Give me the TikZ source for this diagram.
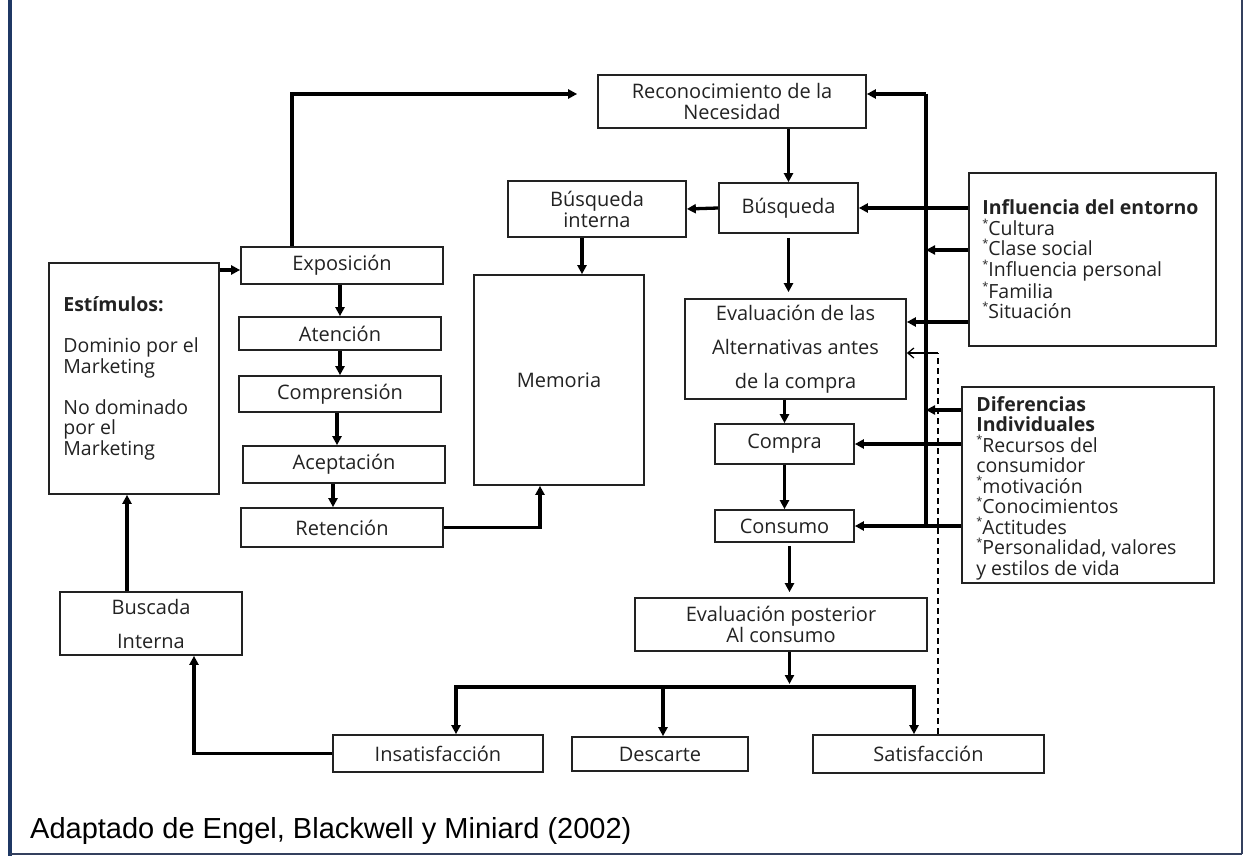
\documentclass[tikz,border=0pt]{standalone}
\usepackage{fontspec}
\setmainfont{Open Sans}
\newfontfamily\capfont{Liberation Sans}
\usetikzlibrary{arrows.meta,calc}
\definecolor{navy}{HTML}{1F3864}
\definecolor{frameb}{HTML}{34405E}
\definecolor{ink}{HTML}{222222}
\newcommand{\bul}{\raisebox{0.42em}{\fontsize{11}{11}\selectfont*}}
\begin{document}
\begin{tikzpicture}[x=1pt,y=-1pt,
  box/.style={draw=ink, line width=1.7pt, inner sep=0pt, align=center,
    font=\fontsize{20}{21}\selectfont, text=ink},
  widebox/.style={box, font=\fontsize{20}{34}\selectfont},
  lbl/.style={inner sep=0pt, align=left, anchor=west,
    font=\fontsize{19.5}{20.5}\selectfont, text=ink},
  conn/.style={line width=3.3pt, black, -{Triangle[length=9pt,width=9pt]}},
  plain/.style={line width=3.3pt, black},
  fbline/.style={black, line width=1.3pt},
]
\useasboundingbox (0,0) rectangle (1243,856);
\fill[white] (0,0) rectangle (1243,856);
% frame
\fill[navy] (8,0) rectangle (12,856);
\draw[frameb, line width=2pt] (10,854) -- (1242,854);
\draw[frameb, line width=2pt] (1242,0) -- (1242,854);

% boxes
\node[box, minimum width=268pt, minimum height=53pt] (reco) at (732,101.5) {Reconocimiento de la\\Necesidad};
\node[box, minimum width=139pt, minimum height=50pt] (busq) at (788.5,208) {Búsqueda};
\node[box, minimum width=178pt, minimum height=56pt] (bint) at (597,209) {Búsqueda\\interna};
\node[box, minimum width=170pt, minimum height=210pt] (mem) at (559,380) {Memoria};
\node[widebox, minimum width=221pt, minimum height=100pt] (evalalt) at (795.5,349) {Evaluación de las\\Alternativas antes\\de la compra};
\node[box, minimum width=139pt, minimum height=40pt] (compra) at (784.5,444) {Compra};
\node[box, minimum width=139pt, minimum height=32pt] (consumo) at (784.5,526) {Consumo};
\node[box, minimum width=292pt, minimum height=53pt] (evpost) at (781,624.5) {Evaluación posterior\\Al consumo};
\node[box, minimum width=210pt, minimum height=37pt] (insat) at (438,753.5) {Insatisfacción};
\node[box, minimum width=176pt, minimum height=34pt] (desc) at (660,754) {Descarte};
\node[box, minimum width=231pt, minimum height=38pt] (satis) at (928.5,754) {Satisfacción};
\node[box, minimum width=247pt, minimum height=173pt] (infl) at (1092.5,259.5) {};
\node[box, minimum width=252pt, minimum height=196pt] (dif) at (1088,485) {};
\node[box, minimum width=170pt, minimum height=231pt] (estim) at (134,378.5) {};
\node[box, minimum width=202pt, minimum height=37pt] (expo) at (342,265.5) {Exposición};
\node[box, minimum width=202pt, minimum height=33pt] (aten) at (340,333.5) {Atención};
\node[box, minimum width=202pt, minimum height=36pt] (comp) at (340,394) {Comprensión};
\node[box, minimum width=202pt, minimum height=37pt] (acep) at (344,464.5) {Aceptación};
\node[box, minimum width=202pt, minimum height=39pt] (ret) at (342,527.5) {Retención};
\node[widebox, minimum width=182pt, minimum height=63pt] (busc) at (151,623.5) {Buscada\\Interna};

% left-aligned texts
\node[lbl] (inflt) at ([xshift=14pt]infl.west) {\textbf{Influencia del entorno}\\\bul Cultura\\\bul Clase social\\\bul Influencia personal\\\bul Familia\\\bul Situación};
\node[lbl] (dift) at ([xshift=15pt,yshift=-3pt]dif.west) {\textbf{Diferencias}\\\textbf{Individuales}\\\bul Recursos del\\consumidor\\\bul motivación\\\bul Conocimientos\\\bul Actitudes\\\bul Personalidad, valores\\y estilos de vida};
\node[lbl] (estimt) at ([xshift=15pt]estim.west) {\textbf{Estímulos:}\\[20.5pt]Dominio por el\\Marketing\\[20.5pt]No dominado\\por el\\Marketing};

% caption
\node[inner sep=0pt, anchor=base west, font=\capfont\fontsize{29}{34}\selectfont] (cap) at (30,838) {Adaptado de Engel, Blackwell y Miniard (2002)};

% trunk on the right
\coordinate (tT) at (926,94);
\draw[plain] (tT) -- (tT |- consumo.east);
\draw[conn] (tT) -- (tT -| reco.east);
\draw[conn] (busq.east -| infl.west) -- (busq.east);
\draw[conn] ([yshift=9.5pt]infl.west) -- ([yshift=9.5pt]infl.west -| tT);
\draw[conn] ([yshift=-62.5pt]infl.west) -- ([yshift=-62.5pt]infl.west -| evalalt.east);
\draw[conn] ([yshift=75pt]dif.west) -- ([yshift=75pt]dif.west -| tT);
\draw[conn] (compra.east -| dif.west) -- (compra.east);
\draw[conn] (consumo.east -| dif.west) -- (consumo.east);

% central chain
\draw[conn] ([xshift=-50pt]expo.north) |- ([yshift=7.5pt, xshift=-20pt]reco.west);
\draw[conn] (busq.north |- reco.south) -- (busq.north);
\draw[conn] (busq.west) -- (bint.east);
\draw[conn] ([xshift=-15pt]bint.south) -- ([xshift=-15pt]bint.south |- mem.north);
\draw[conn, shorten <=4pt, shorten >=6pt] (busq.south) -- (busq.south |- evalalt.north);
\draw[conn] (compra.north |- evalalt.south) -- (compra.north);
\draw[conn] (compra.south) -- (consumo.north);
\draw[conn, shorten <=3pt, shorten >=5pt] ([xshift=5pt]consumo.south) -- ([xshift=5pt]consumo.south |- evpost.north);

% branch
\coordinate (bL) at (456,687);
\coordinate (bR) at (914,687);
\draw[conn, shorten >=3pt] ([xshift=5pt]consumo.south |- evpost.south) -- ([xshift=5pt]consumo.south |- bL);
\draw[plain] ([xshift=-1.6pt]bL) -- ([xshift=1.6pt]bR);
\draw[conn] (bL) -- (bL |- insat.north);
\draw[conn] ([xshift=3pt]desc.north |- bL) -- ([xshift=3pt]desc.north);
\draw[conn] (bR) -- (bR |- satis.north);

% feedback dashed
\coordinate (dk) at (938,353);
\draw[fbline, dash pattern=on 6pt off 4pt] (satis.north -| dk) -- (dk);
\draw[fbline, -{Straight Barb[length=6pt,width=10pt]}] (dk) -- (dk -| evalalt.east);

% left column
\draw[conn] ([yshift=-4.5pt]expo.west -| estim.east) -- ([yshift=-4.5pt]expo.west);
\draw[conn] (aten.north |- expo.south) -- (aten.north);
\draw[conn] (comp.north |- aten.south) -- (comp.north);
\draw[conn] ([xshift=-7pt]acep.north |- comp.south) -- ([xshift=-7pt]acep.north);
\draw[conn] ([xshift=-9pt]ret.north |- acep.south) -- ([xshift=-9pt]ret.north);
\draw[conn] (ret.east) -| ([xshift=-19pt]mem.south);
\draw[conn] ([xshift=-24pt]busc.north) -- ([xshift=-24pt]busc.north |- estim.south);
\draw[conn] (insat.west) -| ([xshift=43pt]busc.south);
\end{tikzpicture}
\end{document}
